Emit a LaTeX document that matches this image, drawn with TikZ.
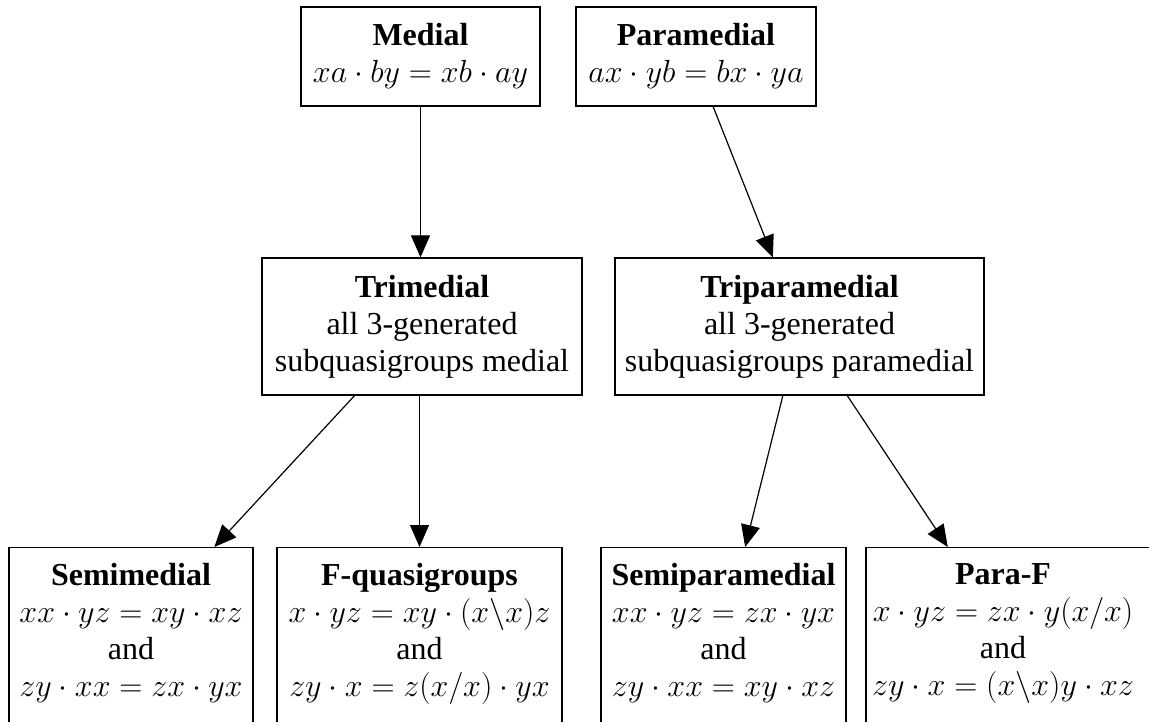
\RequirePackage{fix-cm}
\documentclass[tikz,border=0pt]{standalone}
\usepackage{fontspec}
\setmainfont{Liberation Serif}
\usetikzlibrary{arrows.meta,calc}
\begin{document}
\begin{tikzpicture}[x=1pt,y=-1pt,
  box/.style={draw, line width=1.2pt, rectangle, align=center, inner xsep=0pt,
    font=\fontsize{32}{37}\selectfont},
  txt/.style={rectangle, align=center, inner xsep=0pt, inner ysep=16pt,
    font=\fontsize{32}{37}\selectfont},
  conn/.style={line width=1.2pt, -{Triangle[length=22pt,width=19pt]}}]
\useasboundingbox (0,0) rectangle (1149,722);
\node[box, minimum width=239, minimum height=99] (medial) at (420.5,56.5)
  {\textbf{Medial}\\ $xa\cdot by=xb\cdot ay$};
\node[box, minimum width=240, minimum height=99] (paramedial) at (696,56.5)
  {\textbf{Paramedial}\\ $ax\cdot yb=bx\cdot ya$};
\node[box, minimum width=320, minimum height=137] (trimedial) at (422,326.5)
  {\textbf{Trimedial}\\ all 3-generated\\ subquasigroups medial};
\node[box, minimum width=369, minimum height=137] (triparamedial) at (799.5,326.5)
  {\textbf{Triparamedial}\\ all 3-generated\\ subquasigroups paramedial};
\node[box, anchor=north, inner ysep=16pt, minimum width=244] (semimedial) at (131,547)
  {\textbf{Semimedial}\\ $xx\cdot yz=xy\cdot xz$\\ and\\ $zy\cdot xx=zx\cdot yx$\rule[-40pt]{0pt}{40pt}};
\node[box, anchor=north, inner ysep=16pt, minimum width=285] (fquasi) at (419.5,547)
  {\textbf{F-quasigroups}\\ $x\cdot yz=xy\cdot(x\backslash x)z$\\ and\\ $zy\cdot x=z(x/x)\cdot yx$\rule[-40pt]{0pt}{40pt}};
\node[box, anchor=north, inner ysep=16pt, minimum width=245] (semipara) at (723.5,547)
  {\textbf{Semiparamedial}\\ $xx\cdot yz=zx\cdot yx$\\ and\\ $zy\cdot xx=xy\cdot xz$\rule[-40pt]{0pt}{40pt}};
\node[box, anchor=north, minimum width=294, minimum height=200] (parafbox) at (1013,547) {};
\node[txt, anchor=north] (paraf) at (1003,547)
  {\textbf{Para-F}\\ $x\cdot yz=zx\cdot y(x/x)$\\ and\\ $zy\cdot x=(x\backslash x)y\cdot xz$};
\draw[conn] (medial.south) -- (medial.south |- trimedial.north);
\draw[conn] ($(paramedial.south west)!0.571!(paramedial.south east)$) -- ($(triparamedial.north west)!0.428!(triparamedial.north east)$);
\draw[conn] ($(trimedial.south west)!0.29!(trimedial.south east)$) -- ($(semimedial.north west)!0.84!(semimedial.north east)$);
\draw[conn] (fquasi.north |- trimedial.south) -- (fquasi.north);
\draw[conn] ($(triparamedial.south west)!0.455!(triparamedial.south east)$) -- ($(semipara.north west)!0.588!(semipara.north east)$);
\draw[conn] ($(triparamedial.south west)!0.629!(triparamedial.south east)$) -- ($(parafbox.north west)!0.279!(parafbox.north east)$);
\end{tikzpicture}
\end{document}
